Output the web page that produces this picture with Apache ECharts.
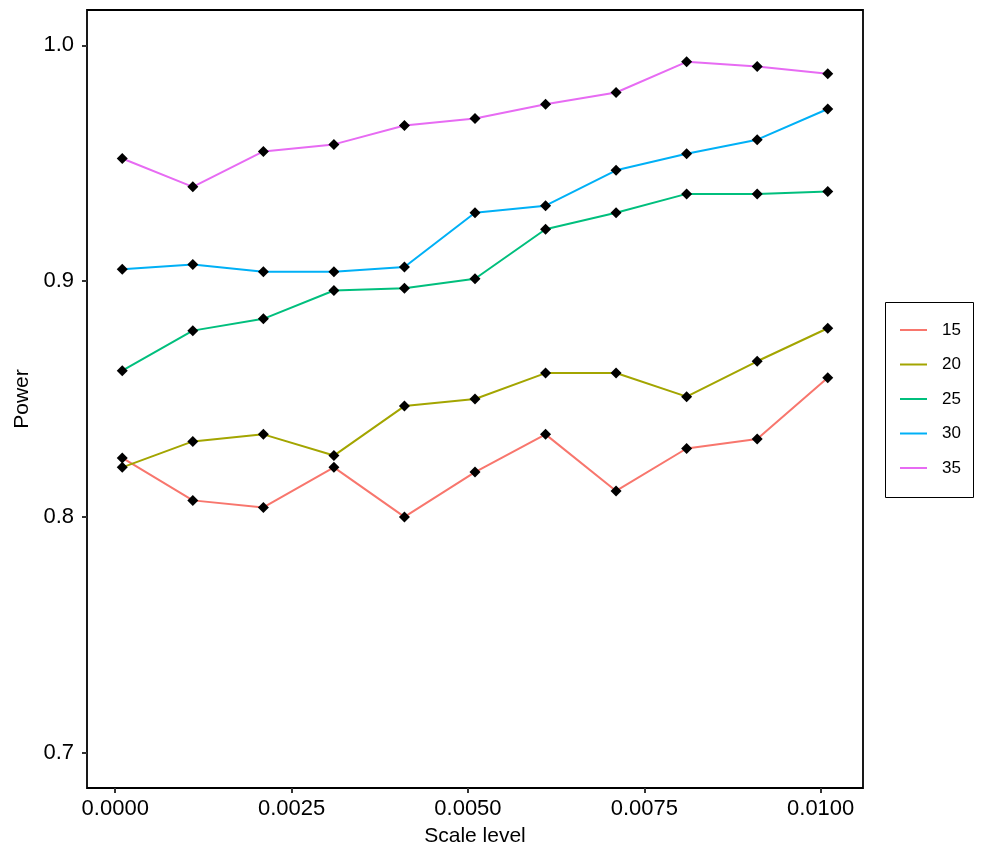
<!DOCTYPE html>
<html>
<head>
<meta charset="utf-8">
<script src="https://cdn.jsdelivr.net/npm/echarts@6/dist/echarts.min.js"></script>
<style>html,body{margin:0;padding:0;background:#fff}#c{width:990px;height:859px}</style>
</head>
<body>
<div id="c"></div>
<script>
const scaleLevels = [0.0001, 0.0011, 0.0021, 0.0031, 0.0041, 0.0051, 0.0061, 0.0071, 0.0081, 0.0091, 0.0101];
const groups = ['15', '20', '25', '30', '35'];
const power15 = [0.825, 0.807, 0.804, 0.821, 0.800, 0.819, 0.835, 0.811, 0.829, 0.833, 0.859];
const power20 = [0.821, 0.832, 0.835, 0.826, 0.847, 0.850, 0.861, 0.861, 0.851, 0.866, 0.880];
const power25 = [0.862, 0.879, 0.884, 0.896, 0.897, 0.901, 0.922, 0.929, 0.937, 0.937, 0.938];
const power30 = [0.905, 0.907, 0.904, 0.904, 0.906, 0.929, 0.932, 0.947, 0.954, 0.960, 0.973];
const power35 = [0.952, 0.940, 0.955, 0.958, 0.966, 0.969, 0.975, 0.980, 0.993, 0.991, 0.988];
const xTicks = [0, 0.0025, 0.005, 0.0075, 0.01];
const yTicks = [0.7, 0.8, 0.9, 1.0];
const colors = ['#F8766D', '#A3A500', '#00BF7D', '#00B0F6', '#E76BF3'];
const allPower = [power15, power20, power25, power30, power35];

const font = 'Liberation Sans, Arial, sans-serif';
const series = [];
groups.forEach((g, k) => {
  series.push({
    name: g, type: 'line', symbol: 'none', z: 2,
    data: scaleLevels.map((x, i) => [x, allPower[k][i]]),
    itemStyle: { color: colors[k] },
    lineStyle: { color: colors[k], width: 2 },
    animation: false
  });
});
groups.forEach((g, k) => {
  series.push({
    name: 'pts' + g, type: 'scatter', symbol: 'diamond', symbolSize: 11, z: 3,
    data: scaleLevels.map((x, i) => [x, allPower[k][i]]),
    itemStyle: { color: '#000', opacity: 1 },
    animation: false
  });
});

const chart = echarts.init(document.getElementById('c'), null, { renderer: 'canvas' });
chart.setOption({
  animation: false,
  backgroundColor: '#fff',
  grid: { left: 87, right: 127, top: 10, bottom: 71, show: true, borderColor: '#000', borderWidth: 1.8, backgroundColor: 'transparent' },
  xAxis: {
    type: 'value', min: -0.0004, max: 0.0106,
    name: 'Scale level', nameLocation: 'middle', nameGap: 38,
    nameTextStyle: { fontFamily: font, fontSize: 21, color: '#000' },
    axisLine: { show: false, onZero: false },
    splitLine: { show: false },
    axisTick: { show: true, customValues: xTicks, length: 5, lineStyle: { color: '#333', width: 2 } },
    axisLabel: { customValues: xTicks, formatter: v => v.toFixed(4), margin: 10, fontFamily: font, fontSize: 22, color: '#000' }
  },
  yAxis: {
    type: 'value', min: 0.685, max: 1.015,
    name: 'Power', nameLocation: 'middle', nameGap: 52,
    nameTextStyle: { fontFamily: font, fontSize: 21, color: '#000' },
    axisLine: { show: false, onZero: false },
    splitLine: { show: false },
    axisTick: { show: true, customValues: yTicks, length: 5, lineStyle: { color: '#333', width: 2 } },
    axisLabel: { customValues: yTicks, formatter: v => v.toFixed(1), margin: 13, fontFamily: font, fontSize: 22, color: '#000' }
  },
  legend: {
    orient: 'vertical', left: 900, top: 320, padding: 0,
    itemWidth: 27, itemHeight: 2, itemGap: 14.5,
    data: groups.map(g => ({ name: g, icon: 'rect' })),
    textStyle: { fontFamily: font, fontSize: 17, color: '#000', lineHeight: 20, padding: [0, 0, 0, 10] }
  },
  graphic: [{
    type: 'rect', silent: true, z: 100,
    shape: { x: 885.5, y: 302.5, width: 88, height: 195 },
    style: { fill: 'none', stroke: '#000', lineWidth: 1 }
  }],
  series: series
});
</script>
</body>
</html>
